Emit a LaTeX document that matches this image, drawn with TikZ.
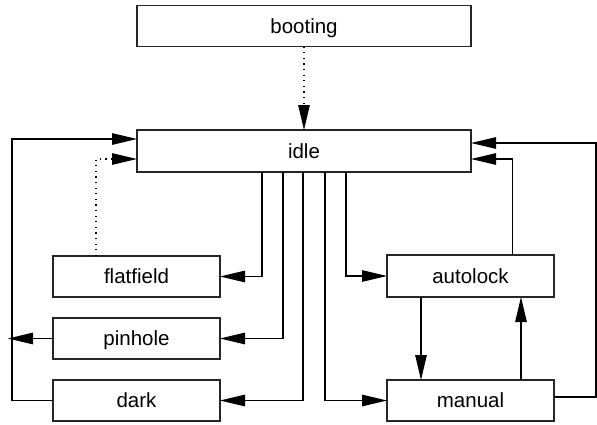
\documentclass[tikz,border=0pt]{standalone}
\usepackage{fontspec}
\setmainfont{Liberation Sans}
\usetikzlibrary{arrows.meta}
\begin{document}
\begin{tikzpicture}[x=1pt,y=-1pt,
  state/.style={draw=black!85,line width=1.2pt,inner sep=0pt,outer sep=0pt,
    font=\fontsize{20.5}{24}\selectfont,fill=white,text height=14.7pt,text depth=0pt},
  wide/.style={state,minimum width=334pt,minimum height=41pt},
  small/.style={state,minimum width=167pt,minimum height=41pt},
  arr/.style={line width=1.2pt,-{Triangle[length=25pt,width=11.5pt]}},
  dotarr/.style={arr,dash pattern=on 1.3pt off 4.3pt}]
\useasboundingbox (0,0) rectangle (597,424);
\node[wide] (booting) at (304,26) {booting};
\node[wide,minimum height=42pt] (idle) at (304,151) {idle};
\node[small] (flatfield) at (136.5,276.5) {flatfield};
\node[small] (pinhole) at (136.5,338.5) {pinhole};
\node[small] (dark) at (136.5,400.5) {dark};
\node[small,minimum height=42pt] (autolock) at (470.5,276) {autolock};
\node[small] (manual) at (470.5,400.5) {manual};
\coordinate (leftx) at (12,0);
\coordinate (tipx) at (8,0);
\coordinate (rightx) at (596,0);
% connectors
\draw[dotarr] (booting.south) -- (idle.north);
\draw[arr] ([xshift=-42pt]idle.south) |- (flatfield.east);
\draw[arr] ([xshift=-21pt]idle.south) |- (pinhole.east);
\draw[arr] ([xshift=-1pt]idle.south) |- (dark.east);
\draw[arr] ([xshift=21pt]idle.south) |- (manual.west);
\draw[arr] ([xshift=42pt]idle.south) |- (autolock.west);
\draw[dotarr] ([xshift=-40.5pt]flatfield.north) |- ([yshift=-8pt]idle.west);
\draw[arr] (dark.west) -- (dark.west -| leftx) |- ([yshift=12pt]idle.west);
\draw[arr] (pinhole.west) -- (pinhole.west -| tipx);
\draw[arr] ([xshift=42pt]autolock.north) |- ([yshift=-8pt]idle.east);
\draw[arr] ([yshift=3.5pt]manual.east) -- ([yshift=3.5pt]manual.east -| rightx) |- ([yshift=8pt]idle.east);
\draw[arr] ([xshift=-49.5pt]autolock.south) -- ([xshift=-49.5pt]manual.north);
\draw[arr] ([xshift=50.5pt]manual.north) -- ([xshift=50.5pt]autolock.south);
\end{tikzpicture}
\end{document}
